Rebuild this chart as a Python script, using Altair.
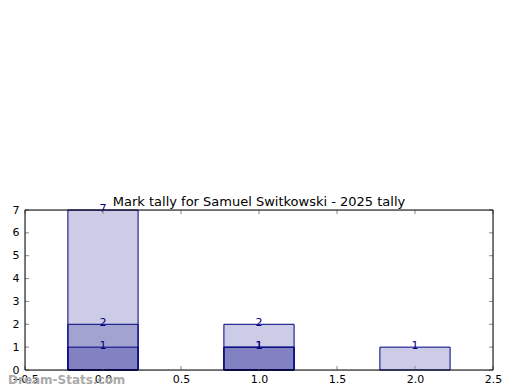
import altair as alt
import pandas as pd

# data
series = ["A", "B", "C"]
positions = [0, 1, 2]
series_a = [7, 2, 1]
series_b = [2, 1, None]
series_c = [1, 1, None]
x_ticks = [-0.5, 0.0, 0.5, 1.0, 1.5, 2.0, 2.5]
y_ticks = [0, 1, 2, 3, 4, 5, 6, 7]
title = "Mark tally for Samuel Switkowski - 2025 tally"
watermark = "Dream-Stats.com"

rows = []
for name, vals in zip(series, [series_a, series_b, series_c]):
    for p, v in zip(positions, vals):
        if v is not None:
            rows.append({"series": name, "pos": p, "value": v})
df = pd.DataFrame(rows)

W, H = 468, 160
xs = alt.Scale(domain=[-0.5, 2.5], nice=False, zero=False)
ys = alt.Scale(domain=[0, 7], nice=False)
font = "DejaVu Sans"

xaxis = alt.Axis(values=x_ticks, format=".1f", title=None, ticks=False,
                 domain=False, grid=False, labelFont=font, labelFontSize=11,
                 labelColor="black", labelPadding=3, labelOverlap=False,
                 labelFlush=False)
yaxis = alt.Axis(values=y_ticks, title=None, ticks=False, domain=False,
                 grid=False, labelFont=font, labelFontSize=11,
                 labelColor="black", labelPadding=6, labelOverlap=False,
                 labelFlush=False)

base = alt.Chart(df).transform_calculate(
    x0="datum.pos - 0.225", x1="datum.pos + 0.225"
)

bars = base.mark_bar(
    fill="#000080", fillOpacity=0.2, stroke="#000080", strokeWidth=1
).encode(
    x=alt.X("x0:Q", scale=xs, axis=xaxis),
    x2="x1:Q",
    y=alt.Y("value:Q", scale=ys, axis=yaxis),
    y2=alt.datum(0),
)

labels = alt.Chart(df).mark_text(
    font=font, fontSize=11, color="#000080", baseline="middle", dy=-1
).encode(
    x=alt.X("pos:Q", scale=xs, axis=xaxis),
    y=alt.Y("value:Q", scale=ys, axis=yaxis),
    text="value:Q",
)

xt = pd.DataFrame({"t": x_ticks})
yt = pd.DataFrame({"t": y_ticks})
tick_color = "#888888"
xtick_bot = alt.Chart(xt).mark_rule(color=tick_color).encode(
    x=alt.X("t:Q", scale=xs, axis=xaxis), y=alt.value(H), y2=alt.value(H - 4))
xtick_top = alt.Chart(xt).mark_rule(color=tick_color).encode(
    x=alt.X("t:Q", scale=xs, axis=xaxis), y=alt.value(0), y2=alt.value(4))
ytick_l = alt.Chart(yt).mark_rule(color=tick_color).encode(
    y=alt.Y("t:Q", scale=ys, axis=yaxis), x=alt.value(0), x2=alt.value(4))
ytick_r = alt.Chart(yt).mark_rule(color=tick_color).encode(
    y=alt.Y("t:Q", scale=ys, axis=yaxis), x=alt.value(W), x2=alt.value(W - 4))

frame = alt.Chart(pd.DataFrame({"t": [0]})).mark_rect(
    fill=None, stroke="black", strokeWidth=1
).encode(x=alt.value(0), x2=alt.value(W), y=alt.value(0), y2=alt.value(H))

wm = alt.Chart(pd.DataFrame({"t": [watermark]})).mark_text(
    font=font, fontSize=12, fontWeight="bold", color="#aaaaaa",
    align="left", baseline="middle"
).encode(x=alt.value(-17), y=alt.value(H + 10), text="t:N")

chart = alt.layer(bars, labels, xtick_bot, xtick_top, ytick_l, ytick_r, frame, wm).properties(
    width=W, height=H,
    title=alt.TitleParams(title, font=font, fontSize=13, fontWeight="normal",
                          color="black", offset=-6),
    autosize=alt.AutoSizeParams(type="none"),
    padding={"left": 17, "top": 202, "right": 10, "bottom": 20},
).configure_view(stroke=None).configure(background="white")

chart.save("out.html", embed_options={"renderer": "svg", "actions": False})
